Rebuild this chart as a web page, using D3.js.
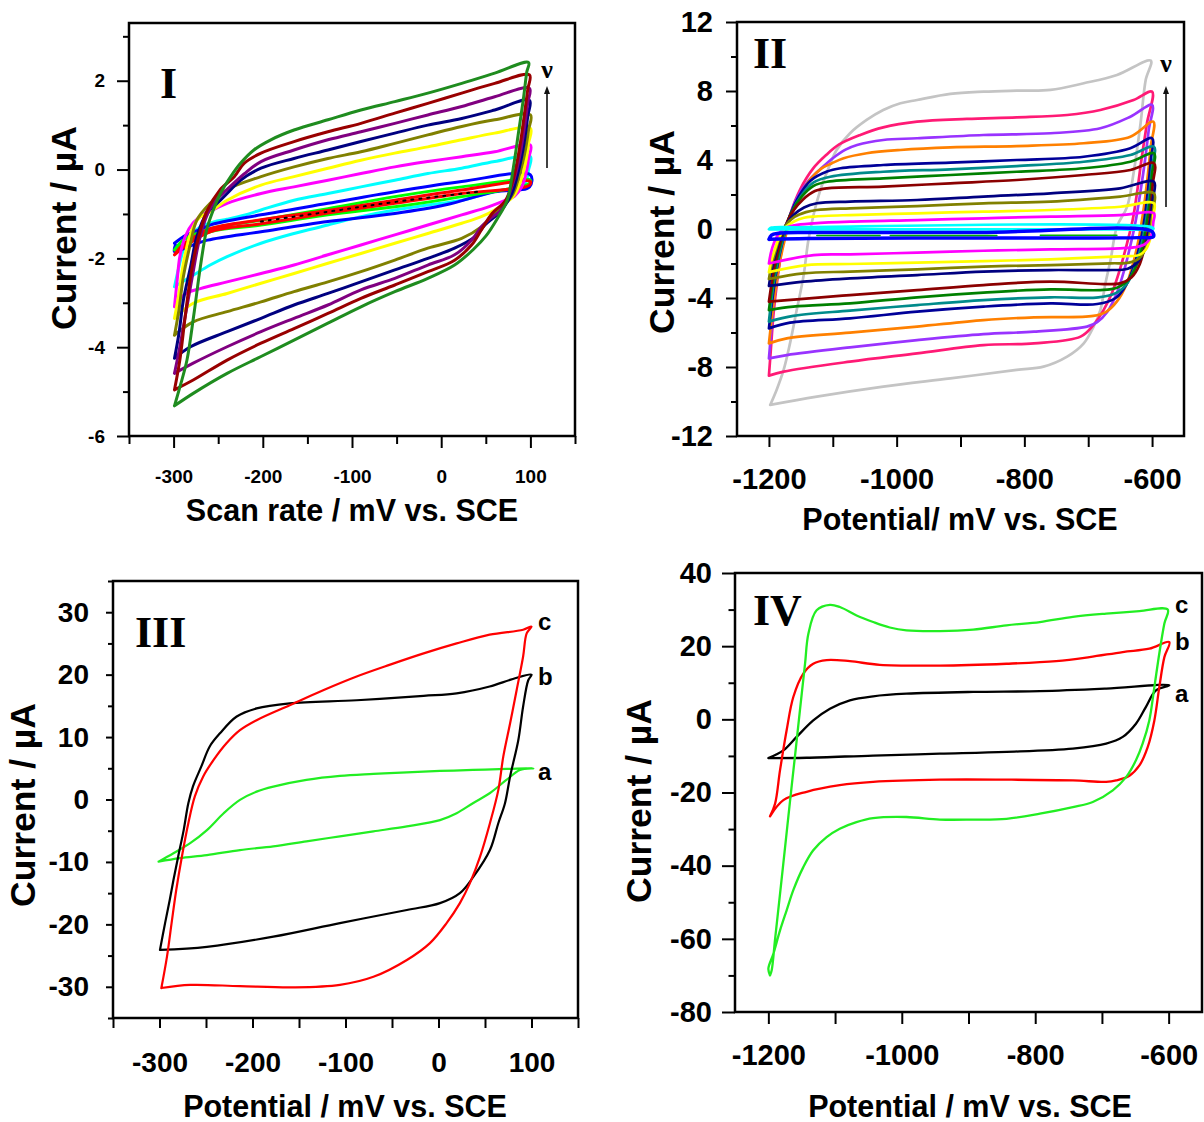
<!DOCTYPE html>
<html><head><meta charset="utf-8">
<script src="https://cdn.jsdelivr.net/npm/d3@7"></script>
<style>body{margin:0;background:#fff}svg{display:block}</style>
</head><body>
<svg id="chart" width="1204" height="1122"></svg>
<script>
// ================= DATA (potential mV, current µA) =================
// ---- Panel I : loops for increasing scan rate ----
const p1Green = [[-299,-5.32],[-293,-4.9],[-285,-4.29],[-277.6,-3.31],[-270,-2.19],[-263,-1.36],[-257,-0.99],[-247.5,-0.54],[-236,-0.16],[-225,0.14],[-210,0.44],[-191,0.67],[-165,0.89],[-127,1.12],[-90,1.34],[-52,1.53],[-15,1.72],[23,1.94],[60,2.17],[98,2.41],[96,2.2],[92,1.57],[86.5,0.81],[81,0.06],[74,-0.69],[63,-1.1],[50,-1.5],[36,-1.8],[15,-2.15],[-15,-2.45],[-52,-2.75],[-90,-3.09],[-127,-3.46],[-165,-3.84],[-202,-4.21],[-240,-4.59],[-278,-5.04],[-299,-5.32]];
const p1DarkRed = [[-299,-4.96],[-293,-4.29],[-287,-3.31],[-281,-2.41],[-273,-1.6],[-263,-0.95],[-248,-0.46],[-232,-0.16],[-221,0.14],[-202,0.37],[-165,0.63],[-127,0.85],[-90,1.04],[-52,1.27],[-15,1.49],[23,1.72],[60,1.94],[99,2.13],[97,1.8],[93,1.2],[88,0.5],[81,-0.2],[72,-0.7],[57,-0.99],[45,-1.36],[34,-1.7],[15,-2.04],[-15,-2.3],[-52,-2.6],[-90,-2.9],[-127,-3.24],[-165,-3.58],[-202,-3.91],[-240,-4.29],[-278,-4.74],[-299,-4.96]];
const p1Purple = [[-299,-4.59],[-293,-3.99],[-287,-3.31],[-279,-2.41],[-272,-1.66],[-264,-1.1],[-255,-0.75],[-240,-0.45],[-221,-0.1],[-202,0.18],[-165,0.44],[-127,0.67],[-90,0.85],[-52,1.04],[-15,1.23],[23,1.42],[60,1.64],[99,1.83],[97,1.5],[93,0.9],[87,0.2],[79,-0.4],[68,-0.9],[55,-1.1],[45,-1.29],[34,-1.59],[15,-1.92],[-15,-2.15],[-52,-2.45],[-90,-2.71],[-127,-3.05],[-165,-3.35],[-202,-3.65],[-240,-3.99],[-278,-4.36],[-299,-4.59]];
const p1Navy = [[-299,-4.25],[-294,-3.69],[-289,-2.94],[-281,-2.19],[-274,-1.51],[-263,-0.99],[-251,-0.76],[-240,-0.54],[-225,-0.24],[-202,0.03],[-165,0.25],[-127,0.44],[-90,0.63],[-52,0.82],[-15,1.0],[23,1.15],[60,1.34],[99,1.56],[97,1.2],[93,0.6],[87,0],[79,-0.55],[66,-0.95],[49,-1.25],[38,-1.51],[15,-1.77],[-15,-2.0],[-52,-2.26],[-90,-2.53],[-127,-2.79],[-165,-3.05],[-202,-3.35],[-240,-3.65],[-281,-3.99],[-299,-4.25]];
const p1Olive = [[-299,-3.73],[-294,-3.16],[-289,-2.41],[-281,-1.66],[-274,-1.14],[-259,-0.76],[-240,-0.45],[-202,-0.16],[-165,0.06],[-127,0.25],[-90,0.4],[-52,0.59],[-15,0.78],[23,0.97],[60,1.12],[100,1.23],[98,0.9],[94,0.4],[88,-0.1],[79,-0.6],[60,-0.99],[45,-1.29],[23,-1.55],[-15,-1.77],[-52,-2.04],[-90,-2.3],[-127,-2.53],[-165,-2.75],[-202,-2.98],[-240,-3.2],[-278,-3.43],[-299,-3.73]];
const p1Yellow = [[-299,-3.35],[-294,-2.79],[-289,-2.11],[-281,-1.44],[-272,-1.1],[-259,-0.95],[-240,-0.69],[-202,-0.35],[-165,-0.16],[-127,0.03],[-90,0.21],[-52,0.37],[-15,0.51],[23,0.67],[60,0.82],[100,0.93],[98,0.6],[95,0.2],[90,-0.2],[81,-0.6],[60,-0.91],[45,-1.06],[23,-1.21],[-15,-1.44],[-52,-1.66],[-90,-1.89],[-127,-2.11],[-165,-2.34],[-202,-2.56],[-240,-2.79],[-278,-3.01],[-299,-3.35]];
const p1Magenta = [[-299,-3.09],[-296,-2.49],[-293,-1.96],[-287,-1.51],[-278,-1.2],[-266,-1.0],[-255,-0.9],[-240,-0.76],[-202,-0.54],[-165,-0.39],[-127,-0.24],[-90,-0.09],[-52,0.06],[-15,0.18],[23,0.29],[60,0.4],[100,0.55],[98,0.25],[95,-0.1],[90,-0.4],[82,-0.6],[72,-0.69],[53,-0.84],[23,-1.02],[-15,-1.25],[-52,-1.47],[-90,-1.7],[-127,-1.92],[-165,-2.15],[-202,-2.34],[-240,-2.53],[-270,-2.68],[-287,-2.8],[-299,-3.09]];
const p1Cyan = [[-299,-2.64],[-294,-2.19],[-289,-1.81],[-281,-1.51],[-270,-1.29],[-255,-1.18],[-240,-1.12],[-221,-1.03],[-202,-0.91],[-165,-0.69],[-127,-0.54],[-90,-0.39],[-52,-0.24],[-15,-0.09],[23,0.03],[60,0.18],[100,0.29],[98,0.0],[94,-0.3],[80,-0.42],[60,-0.49],[23,-0.69],[-15,-0.8],[-52,-0.91],[-90,-1.06],[-127,-1.25],[-165,-1.44],[-202,-1.66],[-240,-1.96],[-259,-2.15],[-278,-2.38],[-299,-2.64]];
const p1Blue = [[-299,-1.66],[-292,-1.55],[-283,-1.45],[-270,-1.35],[-259,-1.25],[-202,-1.02],[-127,-0.76],[-52,-0.5],[23,-0.27],[100,-0.12],[99,-0.39],[60,-0.5],[4,-0.8],[-52,-0.99],[-127,-1.17],[-202,-1.4],[-262,-1.59],[-285,-1.75],[-299,-1.85],[-298,-1.7]];
const p1Lime = [[-299,-1.81],[-290,-1.6],[-275,-1.45],[-259,-1.33],[-202,-1.14],[-127,-0.88],[-52,-0.61],[23,-0.39],[100,-0.24],[99,-0.31],[23,-0.61],[-52,-0.84],[-127,-1.02],[-202,-1.25],[-259,-1.4],[-285,-1.65],[-299,-1.81]];
const p1Red = [[-299,-1.92],[-290,-1.7],[-275,-1.5],[-259,-1.33],[-202,-1.13],[-127,-0.92],[-52,-0.69],[23,-0.46],[100,-0.27],[99,-0.35],[23,-0.54],[-52,-0.76],[-127,-0.98],[-202,-1.22],[-259,-1.4],[-285,-1.7],[-299,-1.92]];
const p1Black = [[-202,-1.17],[-127,-0.95],[-52,-0.73],[41,-0.5]];
const p1XTicks = [-300,-200,-100,0,100];
const p1XMinor = [-350,-250,-150,-50,50,150];
const p1YTicks = [-6,-4,-2,0,2];
const p1YMinor = [-5,-3,-1,1,3];

// ---- Panel II ----
const p2Gray = [[-1198,-10.2],[-1188,-9.33],[-1177,-8.17],[-1167,-6.63],[-1156.5,-4.7],[-1146,-2.76],[-1138,-0.6],[-1129,1.0],[-1120,2.2],[-1109,3.3],[-1094,4.58],[-1073,5.55],[-1047,6.32],[-1021,6.9],[-994,7.29],[-968,7.48],[-916,7.83],[-864,7.96],[-812,8.02],[-759,8.06],[-707,8.45],[-655,8.93],[-602,9.76],[-610,8.64],[-618,6.13],[-629,3.23],[-639,1.3],[-655,0.14],[-665,-1.8],[-673,-3.15],[-681,-4.7],[-691.5,-5.66],[-707,-6.63],[-733,-7.4],[-770,-7.98],[-812,-8.17],[-916,-8.66],[-1021,-9.14],[-1125,-9.72],[-1198,-10.2]];
const p2Pink = [[-1200,-8.5],[-1197,-7.0],[-1193,-5.0],[-1187,-3.0],[-1179,-1.0],[-1167,0.8],[-1151,2.3],[-1131,3.5],[-1110,4.3],[-1090,4.9],[-1057,5.45],[-1021,5.89],[-968,6.22],[-890,6.38],[-812,6.47],[-733,6.61],[-681,6.9],[-629,7.48],[-600,7.96],[-608,6.13],[-616,4.19],[-623,2.26],[-630,0.6],[-639,-0.8],[-650,-2.3],[-663,-3.73],[-676,-4.7],[-692,-5.57],[-712,-6.24],[-785,-6.63],[-864,-6.73],[-968,-7.21],[-1073,-7.69],[-1177,-8.27],[-1200,-8.5]];
const p2Violet = [[-1200,-7.5],[-1197,-6.2],[-1193,-4.5],[-1187,-2.8],[-1180,-1.2],[-1170,0.4],[-1156,1.8],[-1138,2.8],[-1120,3.45],[-1100,4.1],[-1080,4.6],[-1062,4.87],[-1021,5.16],[-968,5.26],[-864,5.45],[-759,5.55],[-681,5.84],[-634,6.51],[-600,7.19],[-605,5.8],[-611,4.0],[-618,2.2],[-625,0.6],[-633,-0.8],[-643,-2.3],[-655,-3.7],[-670,-4.8],[-686,-5.4],[-702,-5.66],[-785,-5.95],[-864,-6.09],[-968,-6.44],[-1073,-6.86],[-1172,-7.31],[-1200,-7.5]];
const p2Orange = [[-1200,-6.63],[-1196,-5.3],[-1191,-3.8],[-1185,-2.3],[-1177,-0.9],[-1167,0.5],[-1153,1.8],[-1135,2.9],[-1118,3.5],[-1102,3.8],[-1083,4.1],[-1047,4.39],[-994,4.58],[-916,4.73],[-812,4.81],[-707,4.97],[-634,5.35],[-598,6.22],[-602,4.8],[-607,3.0],[-613,1.2],[-620,-0.4],[-629,-1.9],[-640,-3.2],[-655,-4.2],[-672,-4.8],[-692,-5.04],[-785,-5.12],[-864,-5.28],[-968,-5.66],[-1073,-6.01],[-1172,-6.34],[-1200,-6.63]];
const p2Navy = [[-1200,-5.76],[-1196,-4.5],[-1191,-3.1],[-1185,-1.8],[-1177,-0.5],[-1167,0.8],[-1153,1.9],[-1135,2.8],[-1109,3.33],[-1088,3.52],[-1021,3.71],[-916,3.85],[-812,4.0],[-707,4.19],[-634,4.68],[-600,5.26],[-602,4.0],[-606,2.4],[-611,0.8],[-618,-0.7],[-627,-2.0],[-640,-3.2],[-657,-4.0],[-686,-4.35],[-759,-4.31],[-864,-4.5],[-968,-4.79],[-1073,-5.18],[-1167,-5.43],[-1200,-5.76]];
const p2Teal = [[-1200,-5.37],[-1196,-4.1],[-1191,-2.8],[-1184,-1.5],[-1176,-0.3],[-1165,0.9],[-1150,1.9],[-1130,2.7],[-1104,3.03],[-1021,3.32],[-916,3.46],[-812,3.65],[-707,3.9],[-634,4.29],[-597,4.77],[-600,3.6],[-604,2.1],[-609,0.6],[-616,-0.8],[-625,-2.0],[-638,-3.1],[-656,-3.7],[-684,-3.96],[-759,-3.96],[-864,-4.12],[-968,-4.41],[-1073,-4.73],[-1162,-5.04],[-1200,-5.37]];
const p2Green = [[-1200,-4.7],[-1196,-3.6],[-1191,-2.4],[-1184,-1.2],[-1175,0],[-1164,1.0],[-1148,1.9],[-1130,2.5],[-1109,2.74],[-1021,2.94],[-916,3.13],[-812,3.32],[-707,3.52],[-634,3.9],[-597,4.39],[-600,3.2],[-603,1.8],[-608,0.4],[-614,-0.9],[-623,-2.0],[-636,-2.9],[-655,-3.4],[-681,-3.54],[-759,-3.5],[-864,-3.69],[-968,-3.96],[-1073,-4.31],[-1162,-4.5],[-1200,-4.7]];
const p2DarkRed = [[-1200,-4.21],[-1196,-3.2],[-1191,-2.1],[-1184,-1.0],[-1175,0.1],[-1163,1.0],[-1147,1.7],[-1128,2.2],[-1109,2.36],[-1021,2.46],[-916,2.65],[-812,2.84],[-707,3.13],[-634,3.42],[-597,3.81],[-599,2.6],[-602,1.2],[-606,0],[-612,-1.1],[-620,-2.1],[-632,-2.8],[-650,-3.15],[-676,-3.19],[-759,-3.05],[-864,-3.25],[-968,-3.54],[-1073,-3.83],[-1156,-4.08],[-1200,-4.21]];
const p2Navy2 = [[-1200,-3.3],[-1196,-2.4],[-1190,-1.5],[-1183,-0.6],[-1174,0.2],[-1162,0.8],[-1145,1.25],[-1125,1.49],[-1073,1.59],[-968,1.68],[-864,1.88],[-759,2.07],[-650,2.36],[-597,2.74],[-599,1.7],[-602,0.7],[-606,-0.3],[-612,-1.2],[-622,-1.9],[-638,-2.3],[-671,-2.38],[-759,-2.38],[-864,-2.47],[-968,-2.67],[-1073,-2.86],[-1146,-3.05],[-1200,-3.3]];
const p2Olive = [[-1200,-2.9],[-1196,-2.1],[-1190,-1.3],[-1183,-0.5],[-1174,0.2],[-1160,0.7],[-1142,0.98],[-1125,1.1],[-1073,1.2],[-968,1.33],[-864,1.49],[-759,1.59],[-650,1.88],[-597,2.07],[-598,1.2],[-601,0.4],[-605,-0.5],[-611,-1.2],[-620,-1.7],[-636,-1.95],[-665,-1.99],[-759,-2.09],[-864,-2.18],[-968,-2.34],[-1073,-2.47],[-1146,-2.57],[-1200,-2.9]];
const p2Yellow = [[-1200,-2.5],[-1196,-1.8],[-1190,-1.1],[-1183,-0.4],[-1174,0.1],[-1160,0.45],[-1145,0.65],[-1130,0.72],[-1073,0.81],[-968,0.91],[-864,1.01],[-759,1.1],[-650,1.29],[-597,1.49],[-598,0.8],[-600,0],[-604,-0.7],[-610,-1.2],[-620,-1.5],[-640,-1.58],[-660,-1.6],[-759,-1.76],[-864,-1.86],[-968,-1.95],[-1073,-2.03],[-1141,-2.09],[-1200,-2.5]];
const p2Magenta = [[-1200,-2.0],[-1197,-1.4],[-1192,-0.8],[-1185,-0.3],[-1175,0.05],[-1160,0.22],[-1130,0.33],[-1073,0.43],[-968,0.52],[-864,0.62],[-759,0.72],[-650,0.81],[-597,0.91],[-598,0.4],[-600,-0.2],[-604,-0.6],[-612,-0.9],[-625,-1.05],[-650,-1.12],[-759,-1.18],[-864,-1.26],[-968,-1.37],[-1073,-1.47],[-1130,-1.51],[-1200,-2.0]];
const p2Cyan = [[-1200,-0.02],[-1196,0.08],[-1150,0.1],[-600,0.1],[-598,0.0],[-650,-0.02],[-1150,-0.02],[-1199,-0.03]];
const p2Blue = [[-1200,-0.6],[-1196,-0.35],[-1185,-0.25],[-1140,-0.2],[-870,-0.2],[-600,-0.15],[-598,-0.45],[-620,-0.5],[-900,-0.52],[-1140,-0.55],[-1199,-0.6]];
const p2LimeA = [[-1125,-0.38],[-1026,-0.38]];
const p2LimeB = [[-1010,-0.38],[-843,-0.38]];
const p2LimeC = [[-775,-0.36],[-655,-0.36]];
const p2XTicks = [-1200,-1000,-800,-600];
const p2XMinor = [-1100,-900,-700];
const p2YTicks = [-12,-8,-4,0,4,8,12];
const p2YMinor = [-10,-6,-2,2,6,10];

// ---- Panel III (a, b, c) ----
const p3A = [[-301,-9.95],[-285,-8.6],[-267,-7.0],[-249,-4.9],[-231,-2.2],[-213.5,-0.07],[-195.6,1.26],[-177.6,2.06],[-142,3.13],[-106,3.77],[-70,4.09],[-34,4.36],[1.6,4.57],[37,4.73],[73,4.89],[102,5.0],[87.6,4.73],[73,3.13],[55,1.0],[37,-0.6],[19.5,-2.2],[1.6,-3.3],[-34,-4.3],[-70,-5.1],[-106,-5.9],[-142,-6.7],[-177.6,-7.5],[-213.5,-8.1],[-249,-8.9],[-278,-9.4],[-301,-9.95]];
const p3B = [[-299.5,-24.1],[-294,-19.8],[-289,-16.1],[-285,-12.9],[-280,-9.2],[-274,-4.9],[-269,-0.6],[-264,2.1],[-255,5.3],[-246,8.5],[-235,10.6],[-217,13.3],[-195.6,14.6],[-160,15.4],[-88,15.9],[-16,16.6],[19.5,17.0],[55,18.1],[80,19.3],[100,20.0],[96.5,19.1],[91,14.9],[85.8,9.5],[77,3.7],[71.5,-0.6],[64.3,-3.8],[55.3,-8.1],[37.4,-12.4],[23,-15.0],[1.6,-16.6],[-34,-17.7],[-106,-19.8],[-177.6,-21.97],[-249,-23.6],[-299.5,-24.1]];
const p3C = [[-298,-30.2],[-292,-25.2],[-287,-19.8],[-282,-14.5],[-276,-9.2],[-269,-3.8],[-262,0.5],[-253,3.7],[-242,6.3],[-228,9.0],[-213.5,11.1],[-195.6,12.7],[-160,15.1],[-124,17.5],[-88,19.7],[-52,21.6],[-16,23.4],[19.5,25.0],[55,26.4],[91,27.2],[100,27.7],[94.8,26.6],[91,22.9],[84,17.5],[77,12.2],[69.7,6.9],[64.3,1.5],[55.3,-3.8],[44.6,-9.2],[33.8,-13.4],[23,-16.6],[8.7,-19.8],[-9.2,-23.0],[-34,-25.7],[-70,-28.4],[-106,-29.7],[-156,-30.1],[-213.5,-29.9],[-267,-29.7],[-298,-30.2]];
const p3XTicks = [-300,-200,-100,0,100];
const p3XMinor = [-350,-250,-150,-50,50,150];
const p3YTicks = [-30,-20,-10,0,10,20,30];
const p3YMinor = [-35,-25,-15,-5,5,15,25,35];
const p3Labels = ["a","b","c"];

// ---- Panel IV (a, b, c) ----
const p4A = [[-1200,-10.6],[-1177.6,-8.5],[-1157.6,-4.8],[-1132.7,-0.3],[-1107.7,2.9],[-1077.8,5.2],[-1042.9,6.3],[-993,7.0],[-893,7.5],[-793,7.7],[-693.7,8.4],[-599,9.3],[-619,7.9],[-634,3.4],[-649,-1.2],[-668.8,-4.8],[-693.7,-6.65],[-743.6,-8.0],[-843,-8.9],[-943,-9.4],[-1043,-9.9],[-1142.6,-10.5],[-1199,-10.6]];
const p4B = [[-1197.5,-26.5],[-1190,-23.1],[-1182.5,-13.9],[-1172.6,-3.0],[-1162.6,6.1],[-1147.6,12.5],[-1132.7,15.2],[-1112.7,16.2],[-1077.8,15.9],[-1033,14.9],[-943,14.7],[-843,15.2],[-768.6,15.9],[-718.7,17.0],[-668.8,18.4],[-629,19.3],[-599,21.1],[-606.4,17.0],[-614,8.8],[-621.4,-0.3],[-631.4,-7.6],[-643.8,-12.6],[-658.8,-15.4],[-678.7,-16.7],[-693.7,-17.1],[-743.6,-16.7],[-843,-16.5],[-943,-16.5],[-1043,-17.1],[-1093,-18.0],[-1142.6,-19.8],[-1177.5,-22.1],[-1197.5,-26.5]];
const p4C = [[-1197.5,-70],[-1195,-68.6],[-1190,-60.2],[-1182.5,-47.7],[-1175,-35.1],[-1167.6,-22.5],[-1160,-9.9],[-1152.6,2.6],[-1145,15.2],[-1140,23.4],[-1127.7,29.8],[-1107.7,31.3],[-1092.8,30.7],[-1067.8,28.4],[-1042.9,26.6],[-1018,25.1],[-993,24.3],[-943,24.1],[-893,24.5],[-843,25.7],[-793,26.6],[-743.6,28.0],[-693.7,28.9],[-643.8,29.6],[-601.4,30.0],[-606.4,26.2],[-614,18.0],[-621.4,8.8],[-629,-0.3],[-639,-6.65],[-649,-11.2],[-663.8,-15.8],[-683.7,-19.4],[-713.7,-22.6],[-743.6,-24.0],[-793,-25.8],[-843,-27.2],[-893,-27.4],[-943,-27.4],[-993,-26.7],[-1043,-27.0],[-1068,-28.1],[-1093,-29.9],[-1112.7,-32.2],[-1132.7,-35.8],[-1147.6,-40.4],[-1162.6,-46.7],[-1172.6,-52.2],[-1182.5,-57.7],[-1192.5,-64.1],[-1200,-68.2],[-1197.5,-70]];
const p4XTicks = [-1200,-1000,-800,-600];
const p4XMinor = [-1100,-900,-700];
const p4YTicks = [-80,-60,-40,-20,0,20,40];
const p4YMinor = [-70,-50,-30,-10,10,30];
const p4Labels = ["a","b","c"];

// ================= DRAWING =================
const SANS = '"Liberation Sans", Arial, Helvetica, sans-serif';
const SERIF = '"Liberation Serif", "Times New Roman", serif';
const svg = d3.select('#chart');

function panel(cfg) {
  const g = svg.append('g');
  const x = d3.scaleLinear().domain(cfg.xDomain).range([cfg.box[0], cfg.box[2]]);
  const y = d3.scaleLinear().domain(cfg.yDomain).range([cfg.box[3], cfg.box[1]]);
  const line = d3.line().x(d => x(d[0])).y(d => y(d[1])).curve(d3.curveCatmullRom.alpha(0.5));
  cfg.series.forEach(s => {
    g.append('path').attr('d', line(s.data)).attr('fill', 'none')
      .attr('stroke', s.color).attr('stroke-width', s.width)
      .attr('stroke-linejoin', 'round').attr('stroke-linecap', 'round')
      .attr('stroke-dasharray', s.dash || null);
  });
  g.append('rect').attr('x', cfg.box[0]).attr('y', cfg.box[1])
    .attr('width', cfg.box[2] - cfg.box[0]).attr('height', cfg.box[3] - cfg.box[1])
    .attr('fill', 'none').attr('stroke', '#000').attr('stroke-width', 2.5);
  const fmt = d => String(d);
  const ax = [];
  ax.push(g.append('g').attr('transform', `translate(${cfg.box[0]},0)`)
    .call(d3.axisLeft(y).tickValues(cfg.yMinor).tickSize(cfg.yMinLen).tickFormat('')));
  ax.push(g.append('g').attr('transform', `translate(${cfg.box[0]},0)`)
    .call(d3.axisLeft(y).tickValues(cfg.yTicks).tickSize(cfg.yMajLen).tickPadding(cfg.yPad).tickFormat(fmt)));
  ax.push(g.append('g').attr('transform', `translate(0,${cfg.box[3]})`)
    .call(d3.axisBottom(x).tickValues(cfg.xMinor).tickSize(cfg.xMinLen).tickFormat('')));
  ax.push(g.append('g').attr('transform', `translate(0,${cfg.box[3]})`)
    .call(d3.axisBottom(x).tickValues(cfg.xTicks).tickSize(cfg.xMajLen).tickPadding(cfg.xPad).tickFormat(fmt)));
  ax.forEach(a => {
    a.select('.domain').remove();
    a.selectAll('line').attr('stroke', '#000').attr('stroke-width', 2);
    a.selectAll('text').attr('fill', '#000').style('font-family', SANS)
      .style('font-weight', 'bold').style('font-size', cfg.tickFont + 'px');
  });
  g.append('text').attr('x', cfg.xTitle[0]).attr('y', cfg.xTitle[1]).attr('text-anchor', 'middle')
    .style('font-family', SANS).style('font-weight', 'bold').style('font-size', '30.5px')
    .text(cfg.xTitleText);
  g.append('text').attr('transform', `translate(${cfg.yTitle[0]},${cfg.yTitle[1]}) rotate(-90)`)
    .attr('text-anchor', 'middle')
    .style('font-family', SANS).style('font-weight', 'bold').style('font-size', '35.5px')
    .text('Current / µA');
  g.append('text').attr('x', cfg.numeral[0]).attr('y', cfg.numeral[1])
    .style('font-family', SERIF).style('font-weight', 'bold').style('font-size', '44px')
    .text(cfg.numeralText);
  return {g, x, y};
}

function nuArrow(g, xp, yTop, yBot, nuY) {
  g.append('text').attr('x', xp).attr('y', nuY).attr('text-anchor', 'middle')
    .style('font-family', SERIF).style('font-weight', 'bold').style('font-size', '26px').text('ν');
  g.append('line').attr('x1', xp).attr('x2', xp).attr('y1', yBot).attr('y2', yTop + 6)
    .attr('stroke', '#111').attr('stroke-width', 1.6);
  g.append('path').attr('d', `M${xp},${yTop} L${xp - 3},${yTop + 8} L${xp + 3},${yTop + 8} Z`).attr('fill', '#111');
}

// ---- Panel I ----
const p1Series = [
  {data: p1Cyan, color: '#00ffff'}, {data: p1Blue, color: '#0000ff'},
  {data: p1Lime, color: '#00ff00'}, {data: p1Red, color: '#ff0000'},
  {data: p1Magenta, color: '#ff00ff'}, {data: p1Yellow, color: '#ffff00'},
  {data: p1Olive, color: '#808000'}, {data: p1Navy, color: '#000080'},
  {data: p1Purple, color: '#800080'}, {data: p1DarkRed, color: '#990000'},
  {data: p1Green, color: '#1f8c1f'}
].map(s => ({...s, width: 3}));
p1Series.push({data: p1Black, color: '#000', width: 2, dash: '2,6'});
const P1 = panel({
  box: [129, 23, 575, 436], xDomain: [-350, 150], yDomain: [-6, 3.3],
  series: p1Series,
  xTicks: p1XTicks, xMinor: p1XMinor, yTicks: p1YTicks, yMinor: p1YMinor,
  yMajLen: 12, yMinLen: 6, yPad: 12, xMajLen: 12, xMinLen: 8, xPad: 21.5, tickFont: 19,
  xTitle: [352, 521], xTitleText: 'Scan rate / mV vs. SCE', yTitle: [76, 228],
  numeral: [160, 98], numeralText: 'I'
});
nuArrow(P1.g, 547, 86, 168, 78);

// ---- Panel II ----
const p2Series = [
  {data: p2Gray, color: '#c4c4c4'}, {data: p2Pink, color: '#ff1a75'},
  {data: p2Violet, color: '#9933ff'}, {data: p2Orange, color: '#ff8000'},
  {data: p2Navy, color: '#000099'}, {data: p2Teal, color: '#008b8b'},
  {data: p2Green, color: '#008000'}, {data: p2DarkRed, color: '#8b0000'},
  {data: p2Navy2, color: '#000080'}, {data: p2Olive, color: '#808000'},
  {data: p2Yellow, color: '#ffff00'}, {data: p2Magenta, color: '#ff00ff'},
  {data: p2Cyan, color: '#00ffff'}
].map(s => ({...s, width: 2.7}));
p2Series.push({data: p2Blue, color: '#0000ff', width: 3.5});
[p2LimeA, p2LimeB, p2LimeC].forEach(d => p2Series.push({data: d, color: '#00b000', width: 1.5}));
const P2 = panel({
  box: [737, 22, 1184, 436], xDomain: [-1250, -550], yDomain: [-12, 12],
  series: p2Series,
  xTicks: p2XTicks, xMinor: p2XMinor, yTicks: p2YTicks, yMinor: p2YMinor,
  yMajLen: 11, yMinLen: 6, yPad: 13, xMajLen: 11, xMinLen: 11, xPad: 21.4, tickFont: 29,
  xTitle: [960, 530], xTitleText: 'Potential/ mV vs. SCE', yTitle: [674, 232],
  numeral: [753, 68], numeralText: 'II'
});
nuArrow(P2.g, 1166, 86, 207, 72);

// ---- Panel III ----
const P3 = panel({
  box: [113, 581, 578, 1018], xDomain: [-350, 150], yDomain: [-35, 35],
  series: [
    {data: p3A, color: '#22ee22', width: 2.2},
    {data: p3B, color: '#000000', width: 2.2},
    {data: p3C, color: '#ff0000', width: 2.2}
  ],
  xTicks: p3XTicks, xMinor: p3XMinor, yTicks: p3YTicks, yMinor: p3YMinor,
  yMajLen: 7, yMinLen: 5, yPad: 17, xMajLen: 10, xMinLen: 10, xPad: 24, tickFont: 28,
  xTitle: [345, 1117], xTitleText: 'Potential / mV vs. SCE', yTitle: [35, 805],
  numeral: [135, 647], numeralText: 'III'
});
[780, 685, 630].forEach((yy, i) => {
  P3.g.append('text').attr('x', 538).attr('y', yy)
    .style('font-family', SANS).style('font-weight', 'bold').style('font-size', '24px')
    .text(p3Labels[i]);
});

// ---- Panel IV ----
const P4 = panel({
  box: [735, 573, 1202, 1012], xDomain: [-1250, -550], yDomain: [-80, 40],
  series: [
    {data: p4A, color: '#000000', width: 2.3},
    {data: p4B, color: '#ff0000', width: 2.3},
    {data: p4C, color: '#22ee22', width: 2.3}
  ],
  xTicks: p4XTicks, xMinor: p4XMinor, yTicks: p4YTicks, yMinor: p4YMinor,
  yMajLen: 13, yMinLen: 6.5, yPad: 10, xMajLen: 12, xMinLen: 12, xPad: 20.4, tickFont: 29,
  xTitle: [970, 1117], xTitleText: 'Potential / mV vs. SCE', yTitle: [651, 801],
  numeral: [753, 625], numeralText: 'IV'
});
[702, 650, 613].forEach((yy, i) => {
  P4.g.append('text').attr('x', 1175).attr('y', yy)
    .style('font-family', SANS).style('font-weight', 'bold').style('font-size', '24px')
    .text(p4Labels[i]);
});
</script>
</body></html>
